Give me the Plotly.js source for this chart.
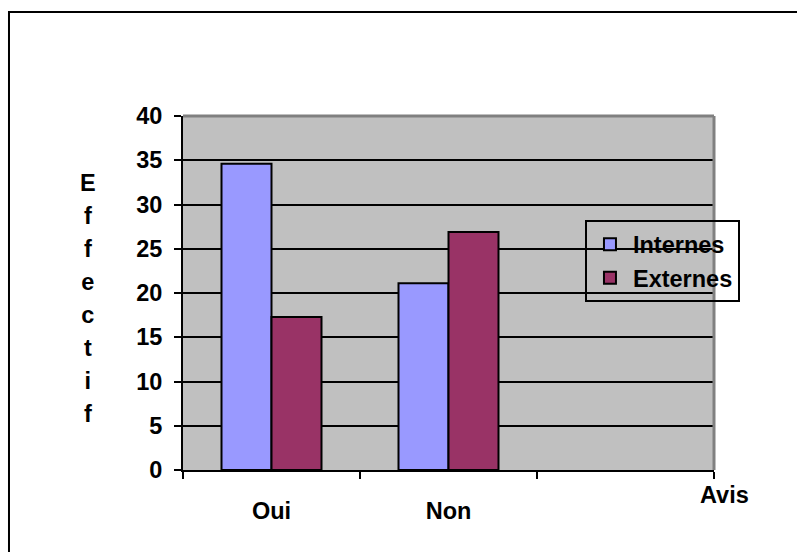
<!DOCTYPE html>
<html>
<head>
<meta charset="utf-8">
<script src="https://cdn.plot.ly/plotly-3.0.1.min.js"></script>
<style>html,body{margin:0;padding:0;background:#fff;}#chart{width:797px;height:552px;}</style>
</head>
<body>
<div id="chart"></div>
<script>
const categories = ['Oui', 'Non', '\u00a0'];
const seriesNames = ['Internes', 'Externes'];
const internes = [34.6, 21.1, null];
const externes = [17.3, 26.9, null];
const yTicks = [0, 5, 10, 15, 20, 25, 30, 35, 40];
const yTitleLetters = ['E', 'f', 'f', 'e', 'c', 't', 'i', 'f'];
const xTitle = 'Avis';

const FONT = 'Liberation Sans, Arial, sans-serif';
const fz = 23.5;

const traces = [
  {type: 'bar', name: seriesNames[0], x: categories, y: internes,
   marker: {color: '#9999ff', line: {color: '#000', width: 2}}},
  {type: 'bar', name: seriesNames[1], x: categories, y: externes,
   marker: {color: '#993366', line: {color: '#000', width: 2}}}
];

const layout = {
  width: 797, height: 552,
  margin: {l: 183, r: 83, t: 116, b: 82},
  paper_bgcolor: '#ffffff',
  plot_bgcolor: '#c0c0c0',
  barmode: 'group', bargap: 0.435, bargroupgap: 0,
  font: {family: FONT, size: fz, color: '#000', weight: 'bold'},
  showlegend: true,
  legend: {x: 0.757, y: 0.705, xanchor: 'left', yanchor: 'top',
           bgcolor: 'rgba(0,0,0,0)', bordercolor: '#000', borderwidth: 2,
           itemwidth: 36, tracegroupgap: 0,
           font: {family: FONT, size: fz, weight: 'bold'}},
  xaxis: {type: 'category', categoryorder: 'array', categoryarray: categories,
          range: [-0.5, 2.5], tickson: 'boundaries', ticks: 'outside', ticklen: 7,
          tickwidth: 2, tickcolor: '#000', showline: true, linecolor: '#000', linewidth: 2,
          showgrid: false, ticklabelstandoff: 19,
          tickfont: {family: FONT, size: fz, weight: 'bold'}},
  yaxis: {range: [0, 40], tickvals: yTicks, ticktext: yTicks.map(String),
          ticks: 'outside', ticklen: 7, tickwidth: 2, tickcolor: '#000',
          showline: true, linecolor: '#000', linewidth: 2, ticklabelstandoff: 7,
          showgrid: true, gridcolor: '#000', gridwidth: 2, zeroline: false,
          tickfont: {family: FONT, size: fz, weight: 'bold'}},
  shapes: [
    {type: 'line', xref: 'paper', yref: 'paper', x0: 0, x1: 1, y0: 1, y1: 1,
     line: {color: '#808080', width: 3}},
    {type: 'line', xref: 'paper', yref: 'paper', x0: 1, x1: 1, y0: 0, y1: 1,
     line: {color: '#808080', width: 3}},
    {type: 'rect', xref: 'paper', yref: 'paper', x0: -0.3277, x1: 1.3, y0: -0.6, y1: 1.2938,
     line: {color: '#000', width: 2}, fillcolor: 'rgba(0,0,0,0)'}
  ],
  annotations: [
    {xref: 'paper', yref: 'paper', x: -0.179, y: 0.4845, xanchor: 'center', yanchor: 'middle',
     showarrow: false, font: {family: FONT, size: 25.4, weight: 'bold'},
     text: yTitleLetters.map(c => '<span style="font-size:23.5px">' + c + '</span>').join('<br>')},
    {xref: 'paper', yref: 'paper', x: 1.02, y: -0.0706, xanchor: 'center', yanchor: 'middle',
     showarrow: false, font: {family: FONT, size: fz, weight: 'bold'}, text: xTitle}
  ]
};

Plotly.newPlot('chart', traces, layout, {staticPlot: true, displayModeBar: false});
</script>
</body>
</html>
